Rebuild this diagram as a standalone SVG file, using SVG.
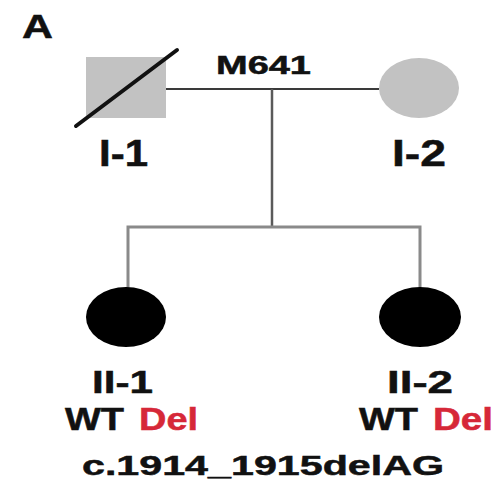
<svg xmlns="http://www.w3.org/2000/svg" width="500" height="484" viewBox="0 0 500 484">
  <style>
    text { font-family: "Liberation Sans", Arial, sans-serif; font-weight: bold; fill: #111111; stroke: #111111; stroke-width: 0.5; }
    .del { fill: #d62838; stroke: #d62838; }
    .carrier { fill: #c2c2c2; }
    .affected { fill: #000000; }
    .couple { stroke: #3a3a3a; stroke-width: 2.2; fill: none; }
    .descent { stroke: #5a5a5a; stroke-width: 2.5; fill: none; }
    .sibship { stroke: #8a8a8a; stroke-width: 3; fill: none; }
  </style>
  <rect width="500" height="484" fill="#ffffff"/>

  <text x="22" y="38" font-size="34" textLength="31" lengthAdjust="spacingAndGlyphs">A</text>

  <!-- connectors -->
  <g id="connectors">
    <line class="couple" x1="166" y1="89" x2="379" y2="89"/>
    <line class="descent" x1="272" y1="89" x2="272" y2="227"/>
    <polyline class="sibship" points="128,288 128,227 420,227 420,288"/>
  </g>

  <text x="216" y="74" font-size="26" textLength="95" lengthAdjust="spacingAndGlyphs">M641</text>

  <!-- generation I -->
  <g id="I-1">
    <rect class="carrier" x="86" y="57" width="80" height="61"/>
    <line x1="76" y1="126" x2="177" y2="50" stroke="#111" stroke-width="4" stroke-linecap="round"/>
    <text x="99" y="166" font-size="36" textLength="49" lengthAdjust="spacingAndGlyphs">I-1</text>
  </g>
  <g id="I-2">
    <ellipse class="carrier" cx="419" cy="88" rx="40" ry="30"/>
    <text x="392" y="166" font-size="36" textLength="54" lengthAdjust="spacingAndGlyphs">I-2</text>
  </g>

  <!-- generation II -->
  <g id="II-1">
    <ellipse class="affected" cx="126" cy="317" rx="40" ry="30"/>
    <text x="92" y="393" font-size="32" textLength="61" lengthAdjust="spacingAndGlyphs">II-1</text>
    <text x="65" y="430" font-size="31" textLength="59" lengthAdjust="spacingAndGlyphs">WT</text>
    <text class="del" x="139" y="430" font-size="31" textLength="59" lengthAdjust="spacingAndGlyphs">Del</text>
  </g>
  <g id="II-2">
    <ellipse class="affected" cx="420" cy="317" rx="41" ry="30"/>
    <text x="387" y="393" font-size="32" textLength="66" lengthAdjust="spacingAndGlyphs">II-2</text>
    <text x="359" y="430" font-size="31" textLength="59" lengthAdjust="spacingAndGlyphs">WT</text>
    <text class="del" x="433" y="430" font-size="31" textLength="60" lengthAdjust="spacingAndGlyphs">Del</text>
  </g>

  <text x="82" y="475" font-size="28" textLength="362" lengthAdjust="spacingAndGlyphs">c.1914_1915delAG</text>
</svg>
